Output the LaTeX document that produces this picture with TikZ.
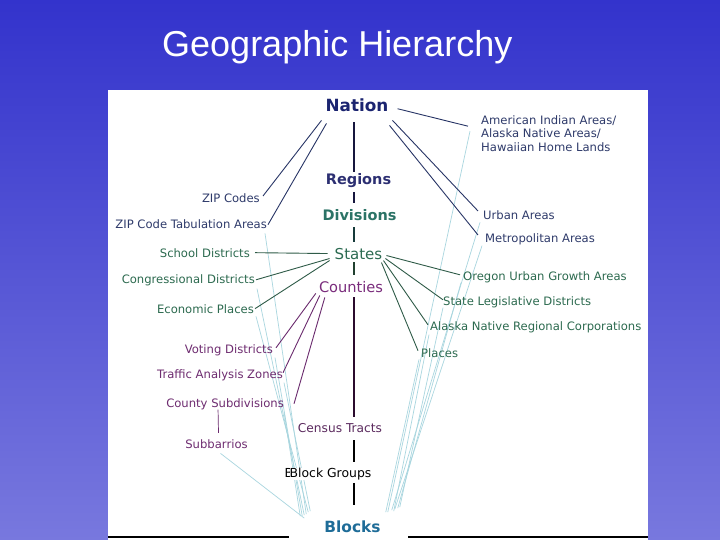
\documentclass[tikz,border=0pt]{standalone}
\usepackage{fontspec}
\usetikzlibrary{calc}
\newfontfamily\lblfont{DejaVu Sans}
\newfontfamily\ttlfont{Liberation Sans}
\definecolor{bgtop}{RGB}{51,51,204}
\definecolor{bgbot}{RGB}{120,120,222}
\definecolor{navlbl}{RGB}{46,58,106}
\definecolor{grnlbl}{RGB}{44,106,79}
\definecolor{purlbl}{RGB}{110,44,112}
\definecolor{nationc}{RGB}{27,36,112}
\definecolor{regionc}{RGB}{44,47,114}
\definecolor{divc}{RGB}{43,115,102}
\definecolor{statec}{RGB}{44,107,82}
\definecolor{countyc}{RGB}{122,44,124}
\definecolor{censusc}{RGB}{91,42,94}
\definecolor{blocksc}{RGB}{30,108,152}
\definecolor{navline}{RGB}{40,53,102}
\definecolor{grnline}{RGB}{47,91,72}
\definecolor{purline}{RGB}{107,43,110}
\definecolor{faintc}{RGB}{169,214,223}
\definecolor{trunkA}{RGB}{22,22,62}
\definecolor{trunkB}{RGB}{22,58,58}
\definecolor{trunkC}{RGB}{32,64,47}
\definecolor{trunkD}{RGB}{43,11,45}
\pgfdeclarelayer{back}
\pgfdeclarelayer{faint}
\pgfsetlayers{back,faint,main}

\begin{document}
\begin{tikzpicture}[x=1pt, y=-1pt, lbl/.style={inner sep=0pt, font=\lblfont\fontsize{11.6}{13.7}\selectfont}, lvl/.style={inner sep=0pt, anchor=base, font=\lblfont\fontsize{#1}{#1}\selectfont}, lvlb/.style={inner sep=0pt, anchor=base, font=\lblfont\bfseries\fontsize{#1}{#1}\selectfont}, conn/.style={line width=0.9pt}, trunk/.style={line width=2.2pt}, faintline/.style={draw=faintc, line width=0.7pt}]

    \begin{pgfonlayer}{back}
    \fill[top color=bgtop, bottom color=bgbot] (0,0) rectangle (720,540);
    \fill[white] (108,90) rectangle (648,540);
    \draw[line width=1.3pt] (108,537) -- (289,537);
    \draw[line width=1.3pt] (408,537) -- (648,537);
    \end{pgfonlayer}

    \node[inner sep=0pt, anchor=base west, text=white, font=\ttlfont\fontsize{36}{40}\selectfont] (title) at (162,56.5) {Geographic Hierarchy};

    \coordinate (axis) at (354,0);
    \node[lvlb=16.8, text=nationc] (nation) at (357,112) {Nation};
    \node[lvlb=14.5, text=regionc] (regions) at (358.5,185) {Regions};
    \node[lvlb=14.5, text=divc] (divisions) at (359.5,221) {Divisions};
    \node[lvl=15, text=statec] (states) at (358.5,259) {States};
    \node[lvl=14.6, text=countyc] (counties) at (351,292) {Counties};
    \node[lvl=12.2, text=censusc] (census) at (340,432) {Census Tracts};
    \node[lvl=12.4, anchor=base west] (hidden) at (284.5,477) {B};
    \node[lvl=12.4, fill=white] (blockgroups) at (330.5,477) {Block Groups};
    \node[lvlb=15.4, text=blocksc] (blocks) at (352.5,532) {Blocks};

    \node[lbl, text=navlbl, anchor=base east] (zip) at (260,203) {ZIP Codes};
    \node[lbl, text=navlbl, anchor=base east] (zcta) at (267,229) {ZIP Code Tabulation Areas};
    \node[lbl, text=grnlbl, anchor=base east] (school) at (250,257) {School Districts};
    \node[lbl, text=grnlbl, anchor=base east] (congr) at (255,283) {Congressional Districts};
    \node[lbl, text=grnlbl, anchor=base east] (econ) at (254,313) {Economic Places};
    \node[lbl, text=purlbl, anchor=base east] (voting) at (273,353) {Voting Districts};
    \node[lbl, text=purlbl, anchor=base east] (traffic) at (283,378) {Traffic Analysis Zones};
    \node[lbl, text=purlbl, anchor=base east] (countysub) at (284,407) {County Subdivisions};
    \node[lbl, text=purlbl, anchor=base] (subbarrios) at (216.5,448) {Subbarrios};

    \node[lbl, text=navlbl, anchor=north west, align=left] (aian) at (481,115.2) {American Indian Areas/\\Alaska Native Areas/\\Hawaiian Home Lands};
    \node[lbl, text=navlbl, anchor=base west] (urban) at (483,219) {Urban Areas};
    \node[lbl, text=navlbl, anchor=base west] (metro) at (485,242) {Metropolitan Areas};
    \node[lbl, text=grnlbl, anchor=base west] (oregon) at (463,280) {Oregon Urban Growth Areas};
    \node[lbl, text=grnlbl, anchor=base west] (stateleg) at (443,305) {State Legislative Districts};
    \node[lbl, text=grnlbl, anchor=base west] (alaska) at (430,330) {Alaska Native Regional Corporations};
    \node[lbl, text=grnlbl, anchor=base west] (places) at (421,357) {Places};

    \draw[trunk, trunkA] ($(nation.south -| axis)+(0,10)$) -- ($(regions.north -| axis)+(0,-2)$);
    \draw[trunk, trunkA] ($(regions.south -| axis)+(0,4)$) -- ($(divisions.north -| axis)+(0,-7)$);
    \draw[trunk, trunkB] ($(divisions.south -| axis)+(0,6)$) -- ($(states.north -| axis)+(0,-6)$);
    \draw[trunk, trunkC] ($(states.south -| axis)+(0,3)$) -- ($(counties.north -| axis)+(0,-6)$);
    \draw[trunk, trunkD] ($(counties.south -| axis)+(0,5)$) -- ($(census.north -| axis)+(0,-6)$);
    \draw[trunk] ($(census.south -| axis)+(0,8)$) -- ($(blockgroups.north -| axis)+(0,-5)$);
    \draw[trunk] ($(blockgroups.south -| axis)+(0,3)$) -- ($(blocks.north -| axis)+(0,-15)$);

    \draw[conn, navline] ([shift={(-4,8)}]nation.south west) -- ([shift={(3,2)}]zip.north east);
    \draw[conn, navline] ([shift={(1,11)}]nation.south west) -- ([xshift=1pt]zcta.east);
    \draw[conn, navline] ([shift={(9,3)}]nation.east) -- ([shift={(-13,11)}]aian.north west);
    \draw[conn, navline] ([shift={(4,8)}]nation.south east) -- ([shift={(-5,1)}]urban.north west);
    \draw[conn, navline] ([shift={(1,13)}]nation.south east) -- ([shift={(-7,2)}]metro.north west);

    \draw[conn, grnline] ([xshift=5pt]school.east) -- ([xshift=-7pt]states.west);
    \draw[conn, grnline] ([xshift=1pt]congr.east) -- ([shift={(-5,5)}]states.west);
    \draw[conn, grnline] ([xshift=1pt]econ.east) -- ([shift={(-5,7)}]states.west);
    \draw[conn, grnline] ([shift={(4,2)}]states.east) -- ([shift={(-3,-2)}]oregon.west);
    \draw[conn, grnline] ([shift={(3,5)}]states.east) -- ([shift={(0,-2)}]stateleg.west);
    \draw[conn, grnline] ([shift={(1,7)}]states.east) -- ([shift={(-2,-2)}]alaska.west);
    \draw[conn, grnline] ([shift={(-1,9)}]states.east) -- ([shift={(-3,-2)}]places.west);

    \draw[conn, purline] ([shift={(-3,1)}]counties.south west) -- ([shift={(3,-2)}]voting.east);
    \draw[conn, purline] ([shift={(1,3)}]counties.south west) -- ([shift={(0,-2)}]traffic.east);
    \draw[conn, purline] ([shift={(6,5)}]counties.south west) -- ([xshift=10pt]countysub.east);
    \draw[purline, line width=0.7pt] ([xshift=-7pt]countysub.south) -- ([shift={(2,-6)}]subbarrios.north);

    \begin{pgfonlayer}{faint}
    \draw[faintline] ([shift={(-2,4)}]zcta.south east) -- ([shift={(-18,-6)}]blocks.north west);
    \draw[faintline] ([shift={(2,3)}]congr.south east) -- ([shift={(-20,-5)}]blocks.north west);
    \draw[faintline] ([shift={(2,3)}]econ.south east) -- ([shift={(-16,-8)}]blocks.north west);
    \draw[faintline] ([shift={(2,2)}]voting.south east) -- ([shift={(-22,-4)}]blocks.north west);
    \draw[faintline] ([shift={(1,2)}]traffic.south east) -- ([shift={(-14,-9)}]blocks.north west);
    \draw[faintline] ([shift={(0,2)}]countysub.south east) -- ([shift={(-24,-4)}]blocks.north west);
    \draw[faintline] ([shift={(4,5)}]subbarrios.south) -- ([shift={(-20,-2)}]blocks.north west);
    \draw[faintline] ([shift={(-11,16)}]aian.north west) -- ([shift={(7,-8)}]blocks.north east);
    \draw[faintline] ([shift={(-3,3)}]urban.south west) -- ([shift={(11,-10)}]blocks.north east);
    \draw[faintline] ([shift={(-3,1)}]metro.south west) -- ([shift={(14,-11)}]blocks.north east);
    \draw[faintline] ([shift={(-2,0)}]oregon.south west) -- ([shift={(17,-12)}]blocks.north east);
    \draw[faintline] (stateleg.south west) -- ([shift={(19,-13)}]blocks.north east);
    \draw[faintline] ([shift={(-1,2)}]alaska.south west) -- ([shift={(13,-9)}]blocks.north east);
    \draw[faintline] ([shift={(-2,2)}]places.south west) -- ([shift={(5,-8)}]blocks.north east);
    \end{pgfonlayer}

  \end{tikzpicture}
\end{document}
